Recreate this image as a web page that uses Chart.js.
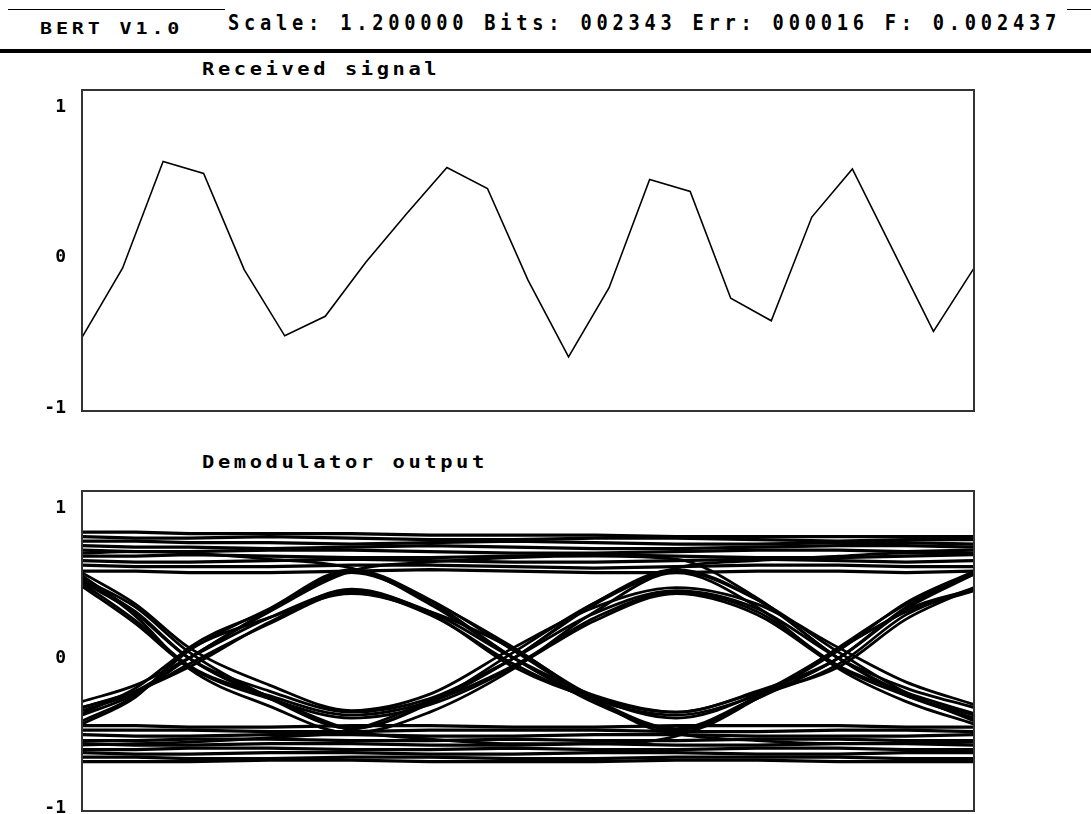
<!DOCTYPE html>
<html>
<head>
<meta charset="utf-8">
<title>BERT V1.0</title>
<script src="https://cdn.jsdelivr.net/npm/chart.js@4.4.1/dist/chart.umd.min.js"></script>
<style>
  html, body { margin: 0; padding: 0; background: #fff; }
  #page { position: relative; width: 1091px; height: 814px; overflow: hidden; font-family: "DejaVu Sans Mono", monospace; color: #000; }
  .abs { position: absolute; white-space: pre; transform-origin: 0 0; }
  #ver { left: 40px; top: 21px; font-size: 16px; line-height: 16px; font-weight: bold; letter-spacing: 3.1px; transform: scaleX(1.25); }
  #status { left: 228px; top: 12px; font-size: 22px; line-height: 22px; font-weight: bold; letter-spacing: 5.6px; transform: scaleX(0.85); }
  .ptitle { left: 202px; font-size: 17px; line-height: 17px; font-weight: bold; letter-spacing: 3px; transform: scaleX(1.2); }
  #rule1 { left: 8px; top: 9px; width: 217px; height: 0; border-top: 1.5px solid #000; }
  #rule2 { left: 1067px; top: 9px; width: 24px; height: 0; border-top: 1.5px solid #000; }
  #rule3 { left: 0; top: 49px; width: 1091px; height: 0; border-top: 4px solid #000; }
  canvas { position: absolute; left: 0; }
</style>
</head>
<body>
<div id="page">
  <div id="rule1" class="abs"></div>
  <div id="rule2" class="abs"></div>
  <div id="ver" class="abs">BERT V1.0</div>
  <div id="status" class="abs">Scale: 1.200000 Bits: 002343 Err: 000016 F: 0.002437</div>
  <div id="rule3" class="abs"></div>

  <div class="abs ptitle" style="top:61px">Received signal</div>
  <canvas id="rx" width="1091" height="375" style="top:55px"></canvas>

  <div class="abs ptitle" style="top:454px">Demodulator output</div>
  <canvas id="eye" width="1091" height="368" style="top:455px"></canvas>
</div>
<script>
// y axis ticks shared by both panels
const Y_TICKS = [-1, 0, 1];

// received signal, one value per sample
const RX_SIGNAL = [-0.53, -0.07, 0.64, 0.56, -0.08, -0.52, -0.39, -0.03, 0.29, 0.60, 0.46, -0.15,
                   -0.66, -0.20, 0.52, 0.44, -0.27, -0.42, 0.27, 0.59, 0.05, -0.49, -0.07];

// eye diagram: sweep position (% of the trace) and the traces sampled there
const EYE_T = [0, 6, 12, 21, 30.2, 39, 48.4, 57.5, 66.6, 75.7, 84.8, 92.4, 100];

// traces with bit transitions
const EYE_T1  = [0.55, 0.30, 0.00, -0.22, -0.36, -0.27, 0.00, 0.30, 0.45, 0.33, 0.00, -0.20, -0.33];
const EYE_T2  = [0.50, 0.25, -0.05, -0.25, -0.38, -0.29, -0.05, 0.27, 0.44, 0.31, -0.05, -0.23, -0.37];
const EYE_T3  = [0.53, 0.34, 0.04, -0.26, -0.47, -0.30, 0.04, 0.37, 0.58, 0.39, 0.04, -0.23, -0.42];
const EYE_T4  = [-0.29, -0.18, 0.00, 0.27, 0.45, 0.31, 0.00, -0.25, -0.36, -0.22, 0.00, 0.32, 0.46];
const EYE_T5  = [-0.35, -0.23, -0.04, 0.23, 0.44, 0.29, -0.04, -0.28, -0.38, -0.25, -0.04, 0.29, 0.47];
const EYE_T6  = [-0.42, -0.25, 0.05, 0.33, 0.59, 0.39, 0.05, -0.28, -0.48, -0.26, 0.05, 0.37, 0.58];
const EYE_T7  = [-0.38, -0.24, 0.00, 0.31, 0.58, 0.64, 0.67, 0.68, 0.66, 0.40, 0.00, -0.25, -0.40];
const EYE_T8  = [0.52, 0.31, 0.00, -0.26, -0.48, -0.54, -0.57, -0.57, -0.52, -0.27, 0.00, 0.33, 0.56];
const EYE_T9  = [0.70, 0.71, 0.70, 0.66, 0.60, 0.38, 0.00, -0.28, -0.47, -0.26, 0.00, 0.34, 0.57];
const EYE_T10 = [-0.58, -0.57, -0.56, -0.53, -0.48, -0.28, 0.00, 0.37, 0.59, 0.39, 0.00, -0.24, -0.41];
const EYE_T11 = [0.51, 0.30, 0.00, -0.27, -0.47, -0.30, 0.00, 0.36, 0.60, 0.65, 0.68, 0.70, 0.70];
const EYE_T12 = [-0.33, -0.22, 0.00, 0.32, 0.58, 0.36, 0.00, -0.30, -0.50, -0.55, -0.57, -0.57, -0.56];
const EYE_T13 = [0.57, 0.36, 0.07, -0.18, -0.35, -0.24, 0.07, 0.34, 0.47, 0.36, 0.07, -0.16, -0.31];
const EYE_T14 = [-0.33, -0.22, -0.06, 0.24, 0.46, 0.30, -0.06, -0.27, -0.36, -0.23, -0.06, 0.26, 0.47];
const EYE_T15 = [0.55, 0.28, -0.07, -0.32, -0.50, -0.36, -0.07, 0.31, 0.57, 0.34, -0.07, -0.29, -0.44];
const EYE_T16 = [-0.44, -0.26, 0.07, 0.32, 0.57, 0.38, 0.07, -0.28, -0.50, -0.27, 0.07, 0.36, 0.56];
const EYE_T17 = [0.48, 0.23, -0.06, -0.27, -0.40, -0.31, -0.06, 0.25, 0.43, 0.29, -0.06, -0.25, -0.38];
const EYE_T18 = [-0.37, -0.20, 0.06, 0.27, 0.43, 0.31, 0.06, -0.26, -0.40, -0.24, 0.06, 0.31, 0.45];

// traces that stay at "1" or "0" for the whole sweep
const EYE_HI1 = [0.84, 0.84, 0.83, 0.83, 0.83, 0.82, 0.82, 0.82, 0.81, 0.81, 0.81, 0.81, 0.81];
const EYE_HI2 = [0.81, 0.80, 0.80, 0.81, 0.80, 0.79, 0.79, 0.80, 0.80, 0.79, 0.78, 0.79, 0.79];
const EYE_HI3 = [0.78, 0.78, 0.77, 0.77, 0.76, 0.77, 0.78, 0.77, 0.76, 0.76, 0.77, 0.77, 0.76];
const EYE_HI4 = [0.75, 0.74, 0.74, 0.73, 0.74, 0.75, 0.74, 0.73, 0.73, 0.74, 0.75, 0.75, 0.74];
const EYE_HI5 = [0.72, 0.71, 0.71, 0.72, 0.72, 0.71, 0.70, 0.70, 0.71, 0.72, 0.72, 0.71, 0.72];
const EYE_HI6 = [0.68, 0.68, 0.69, 0.68, 0.67, 0.67, 0.68, 0.69, 0.68, 0.67, 0.67, 0.68, 0.69];
const EYE_HI7 = [0.65, 0.64, 0.64, 0.65, 0.66, 0.65, 0.64, 0.64, 0.65, 0.66, 0.65, 0.64, 0.65];
const EYE_HI8 = [0.62, 0.61, 0.61, 0.61, 0.62, 0.62, 0.61, 0.60, 0.61, 0.62, 0.62, 0.61, 0.61];
const EYE_HI9 = [0.58, 0.58, 0.57, 0.57, 0.58, 0.59, 0.58, 0.57, 0.57, 0.58, 0.58, 0.57, 0.58];

const EYE_LO1 = [-0.45, -0.45, -0.46, -0.46, -0.45, -0.45, -0.46, -0.46, -0.45, -0.45, -0.45, -0.46, -0.46];
const EYE_LO2 = [-0.48, -0.48, -0.48, -0.49, -0.49, -0.48, -0.48, -0.48, -0.49, -0.49, -0.48, -0.48, -0.49];
const EYE_LO3 = [-0.51, -0.52, -0.52, -0.51, -0.51, -0.52, -0.52, -0.51, -0.51, -0.52, -0.52, -0.52, -0.51];
const EYE_LO4 = [-0.55, -0.55, -0.54, -0.54, -0.55, -0.55, -0.54, -0.55, -0.55, -0.54, -0.54, -0.55, -0.55];
const EYE_LO5 = [-0.57, -0.58, -0.58, -0.57, -0.57, -0.58, -0.58, -0.57, -0.58, -0.58, -0.57, -0.57, -0.58];
const EYE_LO6 = [-0.61, -0.61, -0.60, -0.60, -0.61, -0.61, -0.60, -0.61, -0.61, -0.60, -0.60, -0.61, -0.61];
const EYE_LO7 = [-0.63, -0.64, -0.64, -0.63, -0.63, -0.64, -0.64, -0.63, -0.63, -0.64, -0.64, -0.63, -0.63];
const EYE_LO8 = [-0.66, -0.66, -0.67, -0.67, -0.66, -0.66, -0.67, -0.67, -0.66, -0.66, -0.66, -0.67, -0.67];
const EYE_LO9 = [-0.69, -0.69, -0.69, -0.68, -0.68, -0.69, -0.69, -0.69, -0.68, -0.68, -0.69, -0.69, -0.69];

const EYE_TRANSITIONS = [EYE_T1, EYE_T2, EYE_T3, EYE_T4, EYE_T5, EYE_T6, EYE_T7, EYE_T8, EYE_T9,
                         EYE_T10, EYE_T11, EYE_T12, EYE_T13, EYE_T14, EYE_T15, EYE_T16, EYE_T17, EYE_T18];
const EYE_FLAT = [EYE_HI1, EYE_HI2, EYE_HI3, EYE_HI4, EYE_HI5, EYE_HI6, EYE_HI7, EYE_HI8, EYE_HI9,
                  EYE_LO1, EYE_LO2, EYE_LO3, EYE_LO4, EYE_LO5, EYE_LO6, EYE_LO7, EYE_LO8, EYE_LO9];

const FONT = "'DejaVu Sans Mono', monospace";

// frame around the plot area
const frame = {
  id: "frame",
  afterDraw(chart) {
    const { ctx, chartArea: a } = chart;
    ctx.save();
    ctx.strokeStyle = "#333";
    ctx.lineWidth = 2;
    ctx.strokeRect(a.left, a.top, a.right - a.left, a.bottom - a.top);
    ctx.restore();
  }
};

function yAxis() {
  return {
    min: -1.02,
    max: 1.115,
    afterBuildTicks: (scale) => { scale.ticks = Y_TICKS.map(v => ({ value: v })); },
    afterFit: (scale) => { scale.width = 82; },
    // tick marks are not drawn (grid off); tickLength only pushes the labels left
    grid: { display: false, drawTicks: true, tickLength: 16 },
    border: { display: false },
    ticks: {
      color: "#000",
      padding: 0,
      font: { family: FONT, size: 18, weight: "bold", lineHeight: 1 },
      callback: (v) => String(v)
    }
  };
}

Chart.defaults.animation = false;

new Chart(document.getElementById("rx"), {
  type: "line",
  data: {
    labels: RX_SIGNAL.map((_, i) => i),
    datasets: [{
      data: RX_SIGNAL,
      borderColor: "#000",
      borderWidth: 1.6,
      pointRadius: 0,
      tension: 0
    }]
  },
  plugins: [frame],
  options: {
    responsive: false,
    layout: { padding: { top: 35, bottom: 19, left: 0, right: 117 } },
    plugins: { legend: { display: false }, tooltip: { enabled: false } },
    scales: {
      x: { display: false, offset: false },
      y: yAxis()
    }
  }
});

const eyeSets = [];
EYE_FLAT.forEach(tr => eyeSets.push({
  data: tr.map((y, i) => ({ x: EYE_T[i], y })),
  borderColor: "#000",
  borderWidth: 3.2,
  pointRadius: 0,
  tension: 0
}));
EYE_TRANSITIONS.forEach(tr => eyeSets.push({
  data: tr.map((y, i) => ({ x: EYE_T[i], y })),
  borderColor: "#000",
  borderWidth: 2.8,
  pointRadius: 0,
  cubicInterpolationMode: "monotone"
}));

new Chart(document.getElementById("eye"), {
  type: "line",
  data: { datasets: eyeSets },
  plugins: [frame],
  options: {
    responsive: false,
    layout: { padding: { top: 36, bottom: 12, left: 0, right: 117 } },
    plugins: { legend: { display: false }, tooltip: { enabled: false } },
    scales: {
      x: { type: "linear", display: false, min: 0, max: 100 },
      y: yAxis()
    }
  }
});
</script>
</body>
</html>
